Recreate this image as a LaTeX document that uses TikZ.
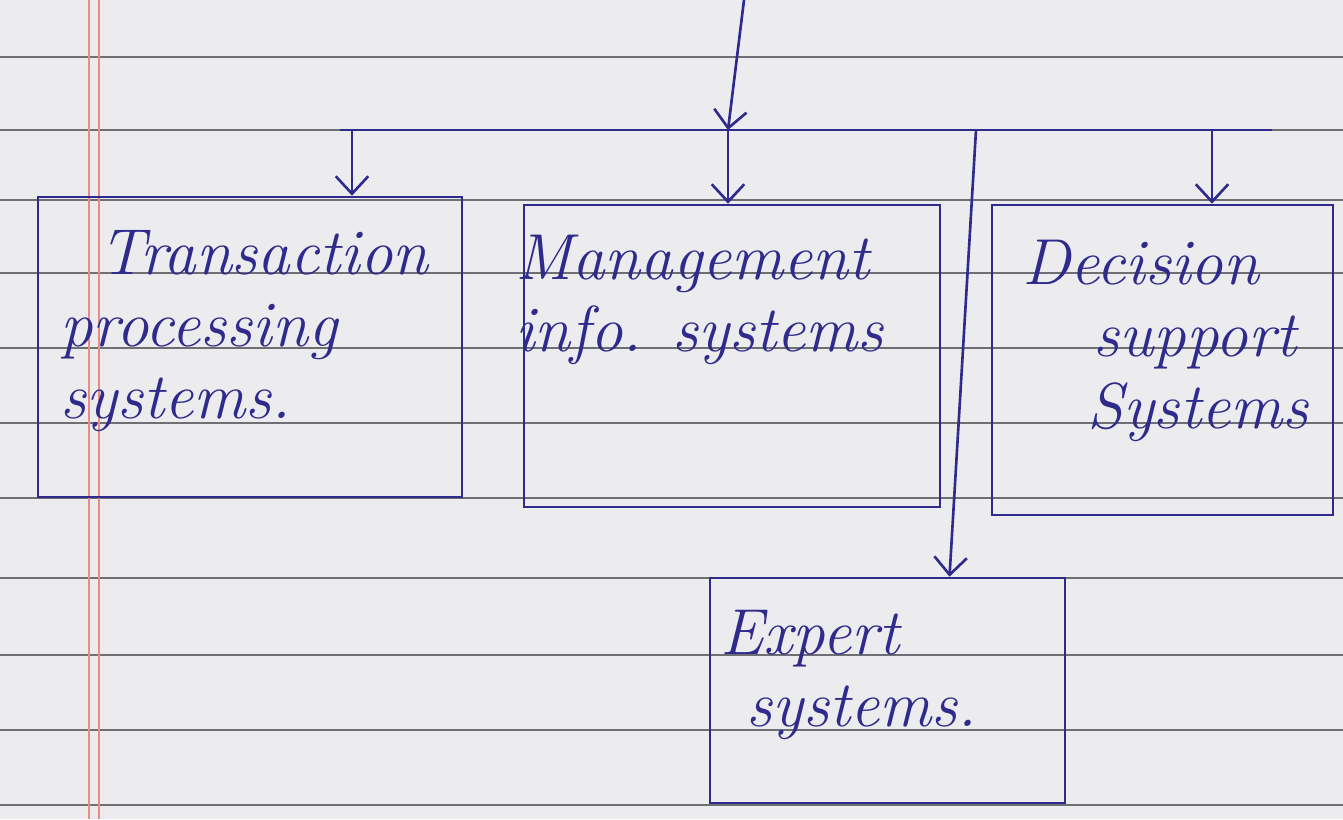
\documentclass[tikz,border=0pt]{standalone}
\usepackage{tikz}
\usetikzlibrary{arrows.meta, calc, fit}
\definecolor{ink}{RGB}{48,42,140}
\definecolor{paper}{RGB}{236,236,238}
\definecolor{rule}{RGB}{110,110,115}
\definecolor{margin}{RGB}{232,140,130}

\begin{document}
\begin{tikzpicture}[x=0.02cm, y=-0.02cm, >={Straight Barb[length=3.5mm,width=6.5mm]},
  ink line/.style={draw=ink, line width=1.5pt},
  sysbox/.style={ink line, inner sep=0pt},
  label text/.style={text=ink, font=\fontsize{37}{41}\selectfont\itshape, align=left, anchor=north west, inner sep=0pt},
  flow/.style={ink line, ->}]

% Paper
\useasboundingbox (0,0) rectangle (1343,819);
\fill[paper] (0,0) rectangle (1343,819);
\foreach \y in {57,130,200,273,348,423,498,578,655,730,805} {
  \draw[rule, line width=0.7pt] (0,\y) -- (1343,\y);
}
\draw[margin, line width=0.8pt] (89,0) -- (89,819);
\draw[margin, line width=0.8pt] (99,0) -- (99,819);

% Boxes
\node[sysbox, fit={(38,197) (462,497)}] (tps) {};
\node[sysbox, fit={(524,205) (940,507)}] (mis) {};
\node[sysbox, fit={(992,205) (1333,515)}] (dss) {};
\node[sysbox, fit={(710,578) (1065,803)}] (es) {};

% Labels
\node[label text] (tpstext) at (60,230) {\hspace*{0.6em}Transaction\\processing\\systems.};
\node[label text] (mistext) at (515,235) {Management\\info. systems};
\node[label text] (dsstext) at (1022,240) {Decision\\\hspace*{1.1em}support\\\hspace*{1.0em}Systems};
\node[label text] (estext) at (720,610) {Expert\\\hspace*{0.4em}systems.};

% Feed line and bus
\coordinate (top) at (744,0);
\coordinate (hub) at (728,130);
\coordinate (busL) at (340,130);
\coordinate (busR) at (1272,130);
\coordinate (tap1) at (352,130);
\coordinate (tap3) at (976,130);
\coordinate (tap4) at (1212,130);

\draw[flow] (top) -- (hub);
\draw[ink line] (busL) -- (busR);

% Arrows to the systems
\draw[flow] (tap1) -- (tap1 |- tps.north);
\draw[flow] (hub) -- (hub |- mis.north);
\draw[flow] (tap4) -- (tap4 |- dss.north);
\draw[flow] (tap3) -- ($(es.north)+(62,0)$);

\end{tikzpicture}
\end{document}
